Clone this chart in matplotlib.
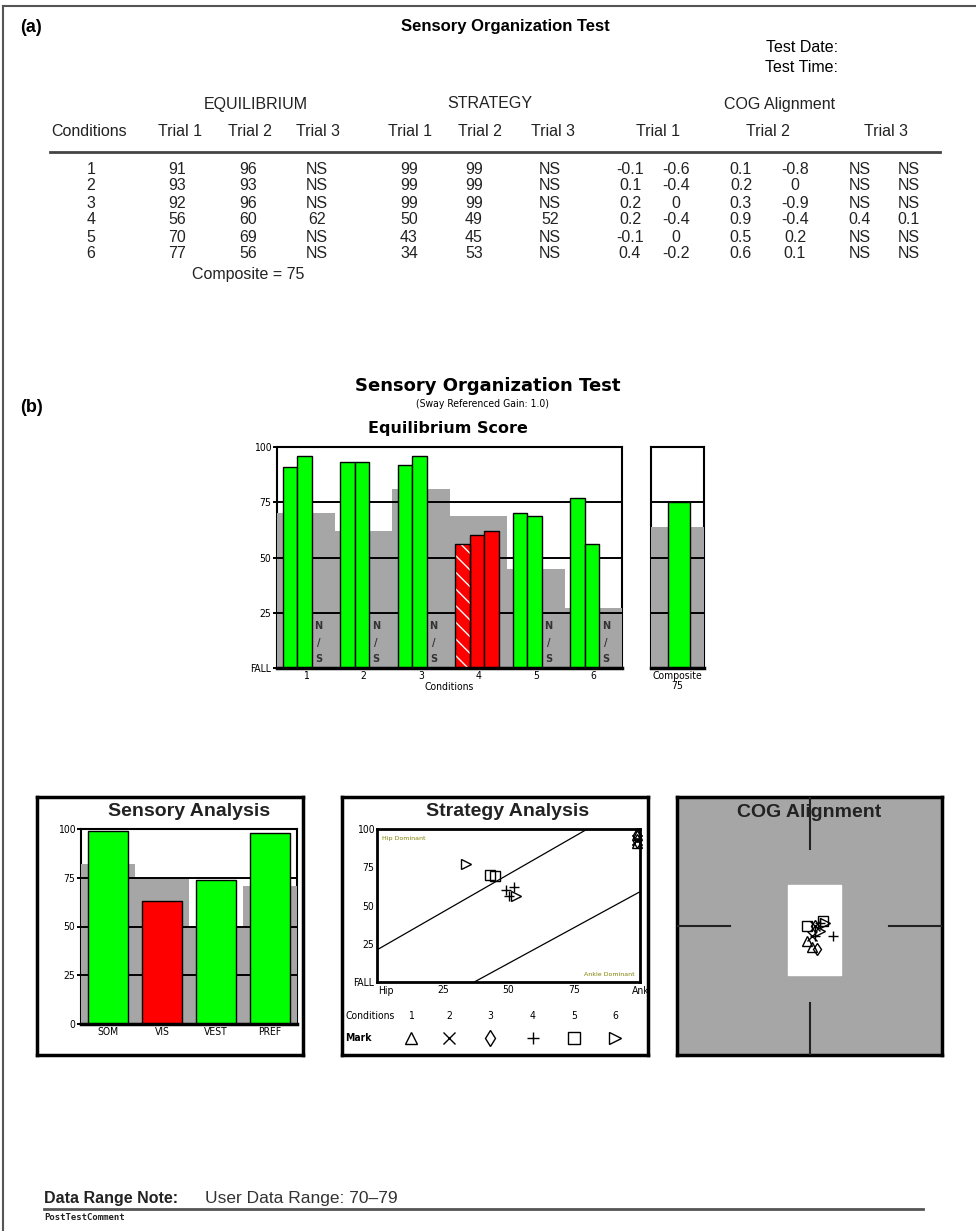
import matplotlib
matplotlib.use('Agg')
import matplotlib.pyplot as plt
from matplotlib.patches import Rectangle

# ---- data (a) table ----
conditions = [1, 2, 3, 4, 5, 6]
eq_trial1 = [91, 93, 92, 56, 70, 77]
eq_trial2 = [96, 93, 96, 60, 69, 56]
eq_trial3 = [None, None, None, 62, None, None]
st_trial1 = [99, 99, 99, 50, 43, 34]
st_trial2 = [99, 99, 99, 49, 45, 53]
st_trial3 = [None, None, None, 52, None, None]
cog_trial1 = [(-0.1, -0.6), (0.1, -0.4), (0.2, 0), (0.2, -0.4), (-0.1, 0), (0.4, -0.2)]
cog_trial2 = [(0.1, -0.8), (0.2, 0), (0.3, -0.9), (0.9, -0.4), (0.5, 0.2), (0.6, 0.1)]
cog_trial3 = [None, None, None, (0.4, 0.1), None, None]
composite = 75

# normative (gray) levels
eq_norm = [70, 62, 81, 69, 45, 27]
composite_norm = 64
flagged = [(4, 0)]  # condition 4, trial 1 is hatched

sensory_labels = ['SOM', 'VIS', 'VEST', 'PREF']
sensory_scores = [99, 63, 74, 98]
sensory_norm = [82, 75, 50, 71]

marks = ['^', 'x', 'd', '+', 's', '>']

# strategy reference lines
hip_line_x, hip_line_y = [0, 80], [21, 100]
ankle_line_x, ankle_line_y = [37, 100], [0, 59]

# COG target zone
cog_zone = (-0.8, -1.9, 2.0, 3.5)

GREEN = '#00ff00'
RED = '#ff0000'
GRAY = '#a6a6a6'
W, H = 976, 1231

NARROW = ['Liberation Sans Narrow', 'Liberation Sans', 'DejaVu Sans']
ARIAL = ['Liberation Sans', 'DejaVu Sans']
TICK = 7.5


def box(x0, y0, x1, y1):
    return [x0 / W, 1 - y1 / H, (x1 - x0) / W, (y1 - y0) / H]


def fmt(v):
    return 'NS' if v is None else f'{v:g}'


fig = plt.figure(figsize=(W / 100, H / 100), dpi=100)
page = fig.add_axes([0, 0, 1, 1])
page.set_xlim(0, W)
page.set_ylim(H, 0)
page.axis('off')

# page frame (top and left only)
page.plot([3, W], [6, 6], color='#555555', lw=1.5)
page.plot([3, 3], [6, H], color='#555555', lw=1.5)

# ---------------- (a) table ----------------
page.text(20, 28, '(a)', family=NARROW, weight='bold', fontsize=13, va='center')
page.text(505, 27, 'Sensory Organization Test', family=NARROW, weight='bold', fontsize=12,
          ha='center', va='center')
page.text(838, 48, 'Test Date:', family=NARROW, fontsize=11.5, ha='right', va='center')
page.text(838, 68, 'Test Time:', family=NARROW, fontsize=11.5, ha='right', va='center')

tkw = dict(family=ARIAL, fontsize=11.5, ha='center', va='center', color='#222222')
page.text(256, 104, 'EQUILIBRIUM', **tkw)
page.text(490, 104, 'STRATEGY', **tkw)
page.text(780, 104, 'COG Alignment', **tkw)

header_x = [89, 180, 250, 318, 410, 480, 553, 658, 768, 886]
header_txt = ['Conditions', 'Trial 1', 'Trial 2', 'Trial 3', 'Trial 1', 'Trial 2', 'Trial 3',
              'Trial 1', 'Trial 2', 'Trial 3']
for x, t in zip(header_x, header_txt):
    page.text(x, 131, t, **tkw)
page.plot([50, 940], [152, 152], color='#444444', lw=2)

row_y = [169, 186, 203, 220, 237, 254]
eq_x = [177, 248, 317]
st_x = [409, 474, 550]
cog_x = [(630, 676), (741, 795), (860, 909)]
for i, c in enumerate(conditions):
    y = row_y[i]
    page.text(91, y, str(c), **tkw)
    for x, tr in zip(eq_x, [eq_trial1, eq_trial2, eq_trial3]):
        page.text(x, y, fmt(tr[i]), **tkw)
    for x, tr in zip(st_x, [st_trial1, st_trial2, st_trial3]):
        page.text(x, y, fmt(tr[i]), **tkw)
    for (xa, xb), tr in zip(cog_x, [cog_trial1, cog_trial2, cog_trial3]):
        p = tr[i]
        page.text(xa, y, fmt(None if p is None else p[0]), **tkw)
        page.text(xb, y, fmt(None if p is None else p[1]), **tkw)
page.text(248, 274, f'Composite = {composite}', **tkw)

# ---------------- (b) chart ----------------
page.text(20, 407, '(b)', family=NARROW, weight='bold', fontsize=13, va='center')
page.text(488, 386, 'Sensory Organization Test', family='DejaVu Sans', weight='bold',
          fontsize=13, ha='center', va='center')
page.text(483, 404, '(Sway Referenced Gain: 1.0)', family='DejaVu Sans',
          fontstretch='condensed', fontsize=7.5, ha='center', va='center')
page.text(448, 428, 'Equilibrium Score', family='DejaVu Sans', weight='bold',
          fontsize=11.5, ha='center', va='center')


def style_frame(ax, bottom_lw=2.5):
    for s in ('left', 'right'):
        ax.spines[s].set_zorder(0.5)
        ax.spines[s].set_linewidth(1.5)
    ax.spines['top'].set_linewidth(1.5)
    ax.spines['top'].set_zorder(3)
    ax.spines['bottom'].set_linewidth(bottom_lw)
    ax.spines['bottom'].set_zorder(3)


def grid(ax, levels=(25, 50, 75)):
    for lv in levels:
        ax.axhline(lv, color='black', lw=1.4, zorder=1.5)


def small_ticks(ax):
    for lab in ax.get_xticklabels() + ax.get_yticklabels():
        lab.set_fontstretch('condensed')
        lab.set_fontsize(TICK)


ax = fig.add_axes(box(277, 447, 622, 668))
ax.set_xlim(0.5, 6.5)
ax.set_ylim(0, 100)
ax.bar(conditions, eq_norm, width=1.0, color=GRAY, lw=0, zorder=1)
grid(ax)
offsets = [-0.271, -0.021, 0.229]
for k, trial in enumerate([eq_trial1, eq_trial2, eq_trial3]):
    for c, v, n in zip(conditions, trial, eq_norm):
        x = c + offsets[k]
        if v is None:
            for yy, ch in zip([19, 11.5, 4], ['N', '/', 'S']):
                ax.text(x - 0.01, yy, ch, fontsize=7, weight='bold', family='DejaVu Sans',
                        ha='center', va='center', color='#333333', zorder=4)
            continue
        col = GREEN if v >= n else RED
        if (c, k) in flagged:
            ax.bar(x, v, width=0.25, color=col, hatch='\\\\', edgecolor='white', lw=0, zorder=2)
            ax.bar(x, v, width=0.25, fill=False, edgecolor='black', lw=1, zorder=2.1)
        else:
            ax.bar(x, v, width=0.25, color=col, edgecolor='black', lw=1, zorder=2)
style_frame(ax)
ax.set_xticks(conditions, [str(c) for c in conditions])
ax.set_yticks([0, 25, 50, 75, 100], ['FALL', '25', '50', '75', '100'])
ax.tick_params(axis='x', length=0, pad=2)
ax.tick_params(axis='y', length=3, width=1.4, pad=1)
small_ticks(ax)
ax.set_xlabel('Conditions', fontsize=TICK, labelpad=1, fontstretch='condensed')

axc = fig.add_axes(box(651, 447, 704, 668))
axc.set_xlim(0, 1)
axc.set_ylim(0, 100)
axc.bar(0.5, composite_norm, width=1.0, color=GRAY, lw=0, zorder=1)
grid(axc)
axc.bar(0.525, composite, width=0.42, color=GREEN if composite >= composite_norm else RED,
        edgecolor='black', lw=1, zorder=2)
style_frame(axc)
axc.set_yticks([])
axc.set_xticks([0.5], [f'Composite\n{composite}'])
axc.tick_params(axis='x', length=0, pad=2)
small_ticks(axc)
for lab in axc.get_xticklabels():
    lab.set_linespacing(1.0)


# ---------------- bottom panels ----------------
def panel(x0, y0, x1, y1, face='white'):
    p = fig.add_axes(box(x0, y0, x1, y1))
    p.set_facecolor(face)
    p.set_xticks([])
    p.set_yticks([])
    for s in p.spines.values():
        s.set_linewidth(2.5)
    return p


def panel_title(x, y, title):
    page.text(x, y, title, family=ARIAL, weight='bold', fontsize=14, ha='center',
              va='center', color='#222222', zorder=5)


# Sensory analysis
panel(37, 797, 303, 1055)
axs = fig.add_axes(box(81, 829, 297, 1024))
axs.set_xlim(0.5, 4.5)
axs.set_ylim(0, 100)
xs = [1, 2, 3, 4]
axs.bar(xs, sensory_norm, width=1.0, color=GRAY, lw=0, zorder=1)
grid(axs)
axs.bar(xs, sensory_scores, width=0.74,
        color=[GREEN if s >= n else RED for s, n in zip(sensory_scores, sensory_norm)],
        edgecolor='black', lw=1, zorder=2)
style_frame(axs)
axs.set_xticks(xs, sensory_labels)
axs.set_yticks([0, 25, 50, 75, 100], ['0', '25', '50', '75', '100'])
axs.tick_params(axis='x', length=0, pad=2)
axs.tick_params(axis='y', length=3, width=1.4, pad=1)
small_ticks(axs)

# Strategy analysis
pst = panel(342, 797, 648, 1055)
axt = fig.add_axes(box(377, 829, 640, 982))
axt.set_xlim(0, 100)
axt.set_ylim(0, 100)
for s in axt.spines.values():
    s.set_linewidth(2)
axt.plot(hip_line_x, hip_line_y, color='black', lw=0.9)
axt.plot(ankle_line_x, ankle_line_y, color='black', lw=0.9)
axt.text(2, 94, 'Hip Dominant', fontsize=4.5, color='#808000', va='center')
axt.text(98, 5, 'Ankle Dominant', fontsize=4.5, color='#808000', va='center', ha='right')
for k, (eqs, sts) in enumerate(zip([eq_trial1, eq_trial2, eq_trial3],
                                   [st_trial1, st_trial2, st_trial3])):
    for i, (e, s) in enumerate(zip(eqs, sts)):
        if e is None or s is None:
            continue
        axt.plot(s, e, marker=marks[i], ms=7.5, mfc='none', mec='black', mew=1, ls='none',
                 clip_on=False, zorder=3)
axt.set_xticks([0, 25, 50, 75, 100], ['', '25', '50', '75', ''])
axt.set_yticks([0, 25, 50, 75, 100], ['FALL', '25', '50', '75', '100'])
axt.tick_params(length=0, pad=2)
small_ticks(axt)
# Hip / Ankle end labels (Ankle is cut by the panel border)
pst.set_xlim(342, 648)
pst.set_ylim(1055, 797)
lkw = dict(fontsize=TICK, fontstretch='condensed', va='center')
pst.text(386, 991, 'Hip', ha='center', **lkw)
pst.text(632, 991, 'Ankle', ha='left', clip_on=True, **lkw)
pst.text(345, 1016, 'Conditions', **lkw)
leg_x = [411, 449, 490, 533, 574, 615]
for x, c in zip(leg_x, conditions):
    pst.text(x, 1016, str(c), ha='center', **lkw)
pst.text(345, 1038, 'Mark', weight='bold', **lkw)
for x, m in zip(leg_x, marks):
    pst.plot(x, 1038, marker=m, ms=8, mfc='none', mec='black', mew=1, ls='none')

# COG alignment
panel(677, 797, 942, 1055, face=GRAY)
axg = fig.add_axes(box(677, 797, 942, 1055))
axg.set_xlim(-5, 5)
axg.set_ylim(-5, 5)
axg.patch.set_alpha(0)
axg.axis('off')
axg.add_patch(Rectangle(cog_zone[:2], cog_zone[2], cog_zone[3], color='white', zorder=1))
for xx, yy in [([0, 0], [3, 5]), ([0, 0], [-5, -3]), ([-5, -3], [0, 0]), ([3, 5], [0, 0])]:
    axg.plot(xx, yy, color='#222222', lw=1.5, zorder=1)
for trial in [cog_trial1, cog_trial2, cog_trial3]:
    for i, p in enumerate(trial):
        if p is None:
            continue
        axg.plot(p[0], p[1], marker=marks[i], ms=6.5, mfc='none', mec='black', mew=1,
                 ls='none', zorder=3)
axg.text(0, 4.4, 'COG Alignment', family=ARIAL, weight='bold', fontsize=14, ha='center',
         va='center', color='#222222', zorder=5)

# page-level panel titles (centred over the plot areas)
fig.text(189 / W, 1 - 811 / H, 'Sensory Analysis', family=ARIAL, weight='bold', fontsize=14,
         ha='center', va='center', color='#222222')
fig.text(508 / W, 1 - 811 / H, 'Strategy Analysis', family=ARIAL, weight='bold', fontsize=14,
         ha='center', va='center', color='#222222')

# ---------------- footer ----------------
page.text(44, 1199, 'Data Range Note:', family=ARIAL, weight='bold', fontsize=11.5,
          va='center', color='#222222')
page.text(205, 1199, 'User Data Range: 70\u201379', family=ARIAL, fontsize=12.5, va='center',
          color='#333333')
page.plot([44, 923], [1209, 1209], color='#555555', lw=2)
page.text(44, 1218, 'PostTestComment', family='DejaVu Sans Mono', weight='bold', fontsize=6.5,
          va='center', color='#222222')

fig.savefig('out.png', dpi=100)
